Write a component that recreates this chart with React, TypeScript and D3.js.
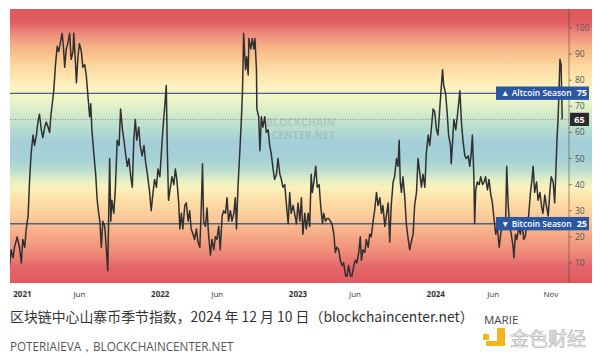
import React from 'react';
import * as d3 from 'd3';

// Altcoin Season Index: [days since 2021-01-01, index value]
const altIndex: [number, number][] = [
  [-34,9],[-30,15],[-25,12],[-21,16],[-14,20],[-8,16],[-3,10],[1,19],[6,16],[10,23],[15,28],[19,42],[23,52],[28,59],[32,55],[37,59],[41,64],[45,67],[50,61],[54,58],[59,62],[63,64],[68,62],[72,60],[75,66],[79,71],[83,76],[87,85],[92,93],[96,91],[100,94],[105,98],[108,94],[112,85],[116,92],[120,94],[125,98],[129,88],[134,91],[136,98],[140,88],[143,79],[147,89],[151,94],[156,91],[160,85],[165,86],[169,82],[174,73],[178,66],[181,71],[184,61],[189,52],[194,44],[198,34],[202,29],[205,26],[209,16],[213,26],[218,24],[222,16],[226,7],[231,50],[234,26],[237,34],[242,29],[246,38],[251,57],[256,55],[260,69],[265,61],[269,57],[273,52],[278,47],[282,50],[287,43],[291,39],[295,57],[299,65],[303,57],[308,62],[312,55],[317,51],[322,55],[326,49],[331,44],
  [337,37],[341,30],[346,37],[350,42],[355,39],[359,46],[364,43],[368,52],[372,61],[377,70],[381,78],[384,52],[387,34],[392,39],[396,43],[401,40],[405,46],[409,42],[414,33],[417,23],[421,29],[425,23],[430,32],[434,33],[439,26],[443,30],[447,23],[452,21],[456,19],[461,23],[465,18],[470,16],[474,32],[477,48],[480,26],[485,24],[489,31],[493,21],[498,13],[502,19],[507,15],[511,20],[515,19],[520,24],[524,15],[529,28],[533,30],[538,29],[542,35],[546,26],[551,30],[555,26],[560,29],[564,35],[567,23],[571,39],[576,53],[580,65],[583,76],[586,98],[591,84],[594,89],[598,82],[600,96],[605,92],[609,96],[613,92],[616,96],[620,84],[621,69],[626,66],[629,53],[633,66],[637,62],[642,66],[646,60],[651,61],[655,55],[659,52],[664,46],[668,42],[673,44],[677,50],[682,44],[686,42],[690,39],[695,40],[699,33],[704,25],[708,37],
  [712,29],[717,32],[721,29],[726,25],[730,33],[735,26],[739,35],[743,21],[748,29],[752,23],[757,29],[761,24],[765,44],[768,37],[773,42],[777,47],[781,39],[786,40],[790,32],[795,25],[798,29],[803,26],[807,27],[811,27],[816,26],[820,25],[825,21],[829,14],[833,16],[838,15],[842,11],[847,9],[851,10],[856,5],[860,5],[864,9],[869,5],[873,5],[878,9],[882,11],[886,10],[891,14],[895,20],[898,11],[902,15],[907,14],[911,19],[916,16],[920,21],[924,20],[929,26],[933,30],[938,37],[942,32],[947,35],[951,29],[955,32],[960,24],[964,28],[969,33],[973,18],[977,32],[982,41],[986,43],[991,50],[995,47],[998,57],[1001,41],[1004,37],[1008,43],[1013,35],[1017,25],[1022,19],[1026,15],[1030,18],[1035,21],[1039,32],[1044,37],[1048,50],[1053,44],[1057,39],[1061,44],[1066,39],[1070,52],[1075,59],[1079,55],
  [1083,61],[1088,69],[1092,68],[1097,61],[1101,59],[1106,70],[1110,78],[1113,84],[1116,78],[1121,75],[1125,68],[1129,59],[1134,55],[1136,48],[1139,55],[1143,65],[1148,61],[1152,66],[1157,73],[1159,76],[1163,64],[1167,57],[1172,51],[1176,50],[1181,51],[1185,47],[1189,52],[1192,59],[1196,43],[1198,25],[1201,38],[1205,41],[1210,40],[1214,43],[1219,40],[1223,41],[1227,43],[1232,38],[1236,42],[1241,36],[1245,33],[1250,26],[1254,21],[1258,24],[1263,16],[1267,21],[1272,25],[1276,26],[1280,24],[1283,47],[1287,32],[1291,24],[1295,21],[1300,16],[1302,12],[1306,21],[1310,19],[1315,24],[1319,21],[1324,25],[1328,19],[1332,20],[1337,26],[1341,28],[1346,37],[1350,42],[1353,47],[1357,37],[1362,41],[1366,34],[1371,37],[1375,32],[1379,29],[1384,36],[1388,32],[1393,28],[1397,37],[1401,43],[1406,41],[1410,33],[1413,44],[1416,57],[1419,65],[1422,78],[1424,88],[1427,86],[1430,65],
];

const baseDate = '2021-01-01';
const xDomainDates = ['2020-11-29', '2024-12-19'];
const yDomainValues = [2.3, 107.3];
const yTickValues = [10, 20, 30, 40, 50, 60, 70, 80, 90, 100];
const xTickDates = ['2021-01-01','2021-06-01','2022-01-01','2022-06-01','2023-01-01','2023-06-01','2024-01-01','2024-06-01','2024-11-01'];
const xTickLabels = ['2021','Jun','2022','Jun','2023','Jun','2024','Jun','Nov'];
const seasonLevels = [
  { value: 75, label: 'Altcoin Season', mark: '▲' },
  { value: 25, label: 'Bitcoin Season', mark: '▼' },
];
const currentValue = 65;
const captionTitle = '区块链中心山寨币季节指数，2024 年 12 月 10 日（blockchaincenter.net）';
const captionSource = 'POTERIAIEVA，BLOCKCHAINCENTER.NET';
const captionAuthor = 'MARIE';
const logoText = '金色财经';

const gradientStops: [number, string][] = [
  [0, '#df5a5f'], [0.047, '#e05c60'], [0.088, '#eb8a7b'], [0.139, '#f6b388'],
  [0.186, '#fbcd95'], [0.234, '#fde1aa'], [0.285, '#fef2c0'], [0.332, '#eef4c8'],
  [0.38, '#d5ebca'], [0.431, '#b9ded0'], [0.485, '#a4cfd9'], [0.551, '#a6d1d6'],
  [0.595, '#c0e0cd'], [0.624, '#e3efc5'], [0.653, '#fcf1bd'], [0.697, '#fde0a8'],
  [0.77, '#fbc697'], [0.832, '#f5a684'], [0.891, '#ee8a78'], [0.942, '#e4666b'], [1, '#df5a5f'],
];

const W = 600, H = 358;
const M = { left: 10, right: 569, bgRight: 592, top: 9, bottom: 283 };
const FONT = "'Open Sans', 'Noto Sans', sans-serif";
const CJK = "'Noto Sans CJK SC', 'Noto Sans', sans-serif";

export default function App() {
  const parse = d3.timeParse('%Y-%m-%d');
  const base = parse(baseDate) as Date;
  const x = d3.scaleTime()
    .domain(xDomainDates.map(d => parse(d) as Date))
    .range([M.left, M.right]);
  const y = d3.scaleLinear().domain(yDomainValues).range([M.bottom, M.top]);
  const line = d3.line<[number, number]>()
    .x(d => x(d3.timeDay.offset(base, d[0])))
    .y(d => y(d[1]));
  const path = line(altIndex) || '';

  return (
    <svg width={W} height={H} style={{ position: 'absolute', left: 0, top: 0, display: 'block', background: '#fff' }}>
      <defs>
        <linearGradient id="bg" x1="0" y1="0" x2="0" y2="1">
          {gradientStops.map(([o, c], i) => <stop key={i} offset={o} stopColor={c} />)}
        </linearGradient>
        <clipPath id="plot">
          <rect x={M.left} y={M.top} width={M.right - M.left} height={M.bottom - M.top} />
        </clipPath>
      </defs>
      <rect x={M.left} y={M.top} width={M.bgRight - M.left} height={M.bottom - M.top} fill="url(#bg)" />

      {/* watermark */}
      <g fontFamily={FONT} fontWeight={700} fontSize={10.5} fill="rgba(120,128,138,0.26)" textAnchor="end">
        <text x={335} y={126}>BLOCKCHAIN</text>
        <text x={335} y={138.5}>CENTER.NET</text>
      </g>

      {/* level lines */}
      {seasonLevels.map(l => (
        <line key={l.value} x1={M.left} x2={M.right} y1={y(l.value)} y2={y(l.value)} stroke="#4a6686" strokeWidth={1.3} />
      ))}
      <line x1={M.left} x2={M.right} y1={y(currentValue)} y2={y(currentValue)} stroke="#6f7a7a" strokeWidth={0.8} strokeDasharray="1,1.5" />

      <path d={path} fill="none" stroke="#303030" strokeWidth={1.5} strokeLinejoin="round" clipPath="url(#plot)" />

      {/* right axis */}
      <line x1={M.right} x2={M.right} y1={M.top} y2={M.bottom} stroke="rgba(90,60,60,0.55)" strokeWidth={1} />
      <g fontFamily={FONT} fontSize={8.5} fill="#555">
        {yTickValues.map(v => (
          <g key={v}>
            <line x1={M.right} x2={M.right + 3} y1={y(v)} y2={y(v)} stroke="rgba(90,60,60,0.6)" />
            <text x={M.right + 6} y={y(v)} dy="0.35em">{v}</text>
          </g>
        ))}
      </g>

      {/* season labels */}
      {seasonLevels.map(l => (
        <g key={l.value} fontFamily={FONT} fill="#fff">
          <rect x={496} y={y(l.value) - 6.8} width={93} height={13.4} fill="#2b56a2" />
          <text x={501} y={y(l.value)} dy="0.35em" fontSize={8.5} fontWeight={600}>{l.mark} {l.label}</text>
          <text x={587} y={y(l.value)} dy="0.35em" fontSize={9} fontWeight={700} textAnchor="end">{l.value}</text>
        </g>
      ))}
      <rect x={570} y={y(currentValue) - 6.6} width={19} height={13.2} fill="#2a2a2a" />
      <text x={579.5} y={y(currentValue)} dy="0.35em" fontFamily={FONT} fontSize={9} fontWeight={700} fill="#fff" textAnchor="middle">{currentValue}</text>

      {/* x axis labels */}
      <g fontFamily={FONT} fontSize={8} fill="#333" textAnchor="middle">
        {xTickDates.map((d, i) => (
          <text key={d} x={x(parse(d) as Date)} y={297} fontWeight={/^\d/.test(xTickLabels[i]) ? 700 : 400}>{xTickLabels[i]}</text>
        ))}
      </g>

      {/* captions */}
      <text x={10} y={322} fontFamily={CJK} fontSize={13.9} fill="#333">{captionTitle}</text>
      <text x={10} y={351} fontFamily={FONT} fontSize={11.7} fill="#555">{captionSource}</text>
      <text x={484} y={324} fontFamily={FONT} fontSize={11.5} fill="#444">{captionAuthor}</text>

      {/* logo */}
      <g fill="#f2b51e">
        <rect x={483} y={334} width={6} height={6} rx={1} />
        <rect x={497} y={328} width={8} height={18} rx={1} />
        <rect x={486} y={341} width={19} height={5} rx={1} />
      </g>
      <text x={510} y={346} fontFamily={CJK} fontSize={19} fill="#f6f6f6" stroke="#b8b8b8" strokeWidth={0.7}>{logoText}</text>
    </svg>
  );
}
